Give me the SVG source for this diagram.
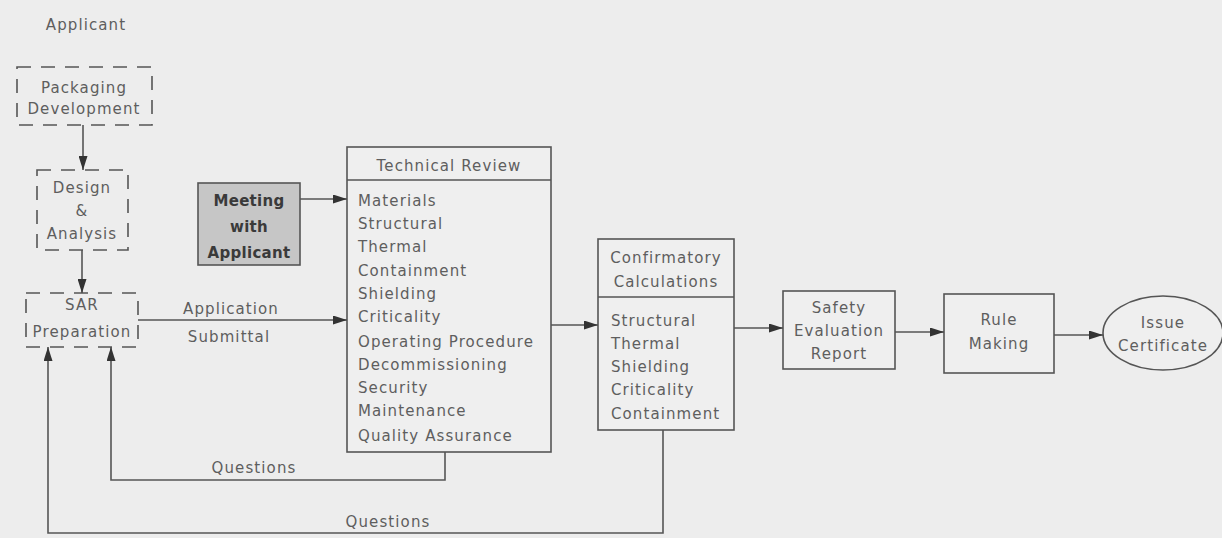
<svg xmlns="http://www.w3.org/2000/svg" width="1222" height="538" viewBox="0 0 1222 538">
<style>
text{font-family:"DejaVu Sans","Liberation Sans",sans-serif;font-size:15px;fill:#5e5e5e;letter-spacing:1.1px}
.c{text-anchor:middle}
.box{fill:#efefef;stroke:#555;stroke-width:1.6}
.dash{fill:none;stroke:#555;stroke-width:1.6;stroke-dasharray:14 10}
.ln{fill:none;stroke:#555;stroke-width:1.6}
.dark{fill:#3a3a3a;font-weight:bold;letter-spacing:0.3px}
</style>
<defs>
<marker id="ah" viewBox="0 0 14 9" refX="14" refY="4.5" markerWidth="14" markerHeight="9" markerUnits="userSpaceOnUse" orient="auto">
<path d="M0,0 L14,4.5 L0,9 Z" fill="#333"/>
</marker>
</defs>
<rect width="1222" height="538" fill="#ededed"/>
<text class="c" x="86" y="30">Applicant</text>

<g id="packaging">
<rect class="dash" x="17" y="67" width="135" height="58"/>
<text class="c" x="84" y="93">Packaging</text>
<text class="c" x="84" y="114">Development</text>
</g>
<g id="design">
<rect class="dash" x="37" y="170" width="91" height="80"/>
<text class="c" x="82" y="193">Design</text>
<text class="c" x="82" y="216">&amp;</text>
<text class="c" x="82" y="239">Analysis</text>
</g>
<g id="sar">
<rect class="dash" x="26" y="293" width="112" height="54"/>
<text class="c" x="82" y="310">SAR</text>
<text class="c" x="82" y="337">Preparation</text>
</g>
<g id="meeting">
<rect x="198" y="183" width="102" height="82" fill="#c6c6c6" stroke="#555" stroke-width="1.6"/>
<text class="c dark" x="249" y="206">Meeting</text>
<text class="c dark" x="249" y="232">with</text>
<text class="c dark" x="249" y="258">Applicant</text>
</g>
<g id="technical-review">
<rect class="box" x="347" y="147" width="204" height="305"/>
<line class="ln" x1="347" y1="180" x2="551" y2="180"/>
<text class="c" x="449" y="171">Technical Review</text>
<text x="358" y="206">Materials</text>
<text x="358" y="229">Structural</text>
<text x="358" y="252">Thermal</text>
<text x="358" y="276">Containment</text>
<text x="358" y="299">Shielding</text>
<text x="358" y="322">Criticality</text>
<text x="358" y="347">Operating Procedure</text>
<text x="358" y="370">Decommissioning</text>
<text x="358" y="393">Security</text>
<text x="358" y="416">Maintenance</text>
<text x="358" y="441">Quality Assurance</text>
</g>
<g id="confirmatory">
<rect class="box" x="598" y="239" width="136" height="191"/>
<line class="ln" x1="598" y1="297" x2="734" y2="297"/>
<text class="c" x="666" y="263">Confirmatory</text>
<text class="c" x="666" y="287">Calculations</text>
<text x="611" y="326">Structural</text>
<text x="611" y="349">Thermal</text>
<text x="611" y="372">Shielding</text>
<text x="611" y="395">Criticality</text>
<text x="611" y="419">Containment</text>
</g>
<g id="ser">
<rect class="box" x="783" y="291" width="112" height="78"/>
<text class="c" x="839" y="313">Safety</text>
<text class="c" x="839" y="336">Evaluation</text>
<text class="c" x="839" y="359">Report</text>
</g>
<g id="rule-making">
<rect class="box" x="944" y="294" width="110" height="79"/>
<text class="c" x="999" y="325">Rule</text>
<text class="c" x="999" y="349">Making</text>
</g>
<g id="issue-certificate">
<ellipse cx="1163" cy="333" rx="60" ry="37" fill="#efefef" stroke="#555" stroke-width="1.6"/>
<text class="c" x="1163" y="328">Issue</text>
<text class="c" x="1163" y="351">Certificate</text>
</g>

<g id="connectors">
<line class="ln" x1="83" y1="125" x2="83" y2="170" marker-end="url(#ah)"/>
<line class="ln" x1="82" y1="250" x2="82" y2="293" marker-end="url(#ah)"/>
<line class="ln" x1="138" y1="320" x2="347" y2="320" marker-end="url(#ah)"/>
<line class="ln" x1="300" y1="199" x2="347" y2="199" marker-end="url(#ah)"/>
<line class="ln" x1="551" y1="325" x2="598" y2="325" marker-end="url(#ah)"/>
<line class="ln" x1="734" y1="328" x2="783" y2="328" marker-end="url(#ah)"/>
<line class="ln" x1="895" y1="332" x2="944" y2="332" marker-end="url(#ah)"/>
<line class="ln" x1="1054" y1="335" x2="1103" y2="335" marker-end="url(#ah)"/>
<path class="ln" d="M445,452 V480 H111 V347" marker-end="url(#ah)"/>
<path class="ln" d="M663,430 V533 H48 V347" marker-end="url(#ah)"/>
</g>
<text class="c" x="231" y="314">Application</text>
<text class="c" x="229" y="342">Submittal</text>
<text class="c" x="254" y="473">Questions</text>
<text class="c" x="388" y="527">Questions</text>
</svg>
